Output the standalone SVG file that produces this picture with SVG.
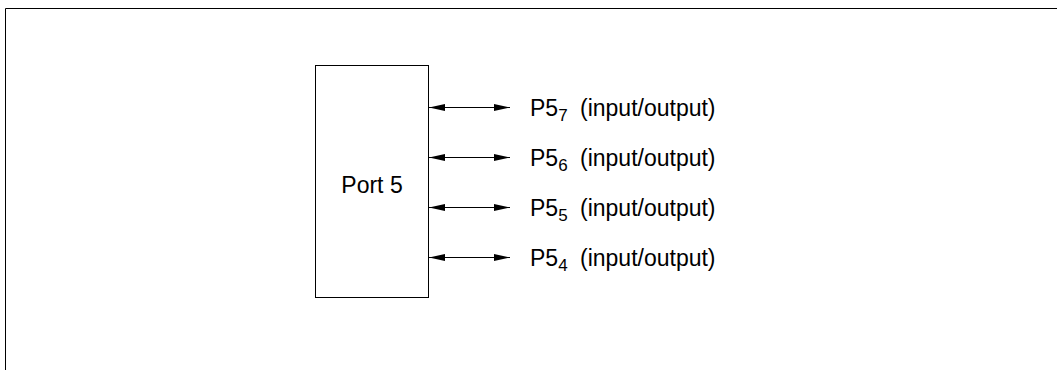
<svg xmlns="http://www.w3.org/2000/svg" width="1057" height="370" viewBox="0 0 1057 370">
<style>
.t{font-family:"Liberation Sans",Arial,sans-serif;font-size:23px;fill:#000}
.s{font-size:17px}
.ln{stroke:#000;stroke-width:1;fill:none}
</style>
<defs>
<marker id="ah" viewBox="0 0 16 8" refX="16" refY="4" markerWidth="16" markerHeight="8" orient="auto-start-reverse" markerUnits="userSpaceOnUse">
<path d="M0,0.5 L16,4 L0,7.5 Z" fill="#000"/>
</marker>
</defs>
<rect width="1057" height="370" fill="#fff"/>
<g id="frame"><path class="ln" d="M5.5,370 V8.5 H1057" stroke-width="2"/></g>
<g id="port5">
<rect x="315.5" y="65.5" width="113" height="232" class="ln"/>
<text x="372" y="193" class="t" text-anchor="middle">Port 5</text>
</g>
<g id="connectors">
<line x1="429" y1="107.5" x2="510" y2="107.5" class="ln" marker-start="url(#ah)" marker-end="url(#ah)"/>
<line x1="429" y1="157.5" x2="510" y2="157.5" class="ln" marker-start="url(#ah)" marker-end="url(#ah)"/>
<line x1="429" y1="207.5" x2="510" y2="207.5" class="ln" marker-start="url(#ah)" marker-end="url(#ah)"/>
<line x1="429" y1="257.5" x2="510" y2="257.5" class="ln" marker-start="url(#ah)" marker-end="url(#ah)"/>
</g>
<g id="p57"><text x="530" y="116" class="t">P5<tspan class="s" dy="5">7</tspan><tspan dy="-5" dx="6"> (input/output)</tspan></text></g>
<g id="p56"><text x="530" y="166" class="t">P5<tspan class="s" dy="5">6</tspan><tspan dy="-5" dx="6"> (input/output)</tspan></text></g>
<g id="p55"><text x="530" y="216" class="t">P5<tspan class="s" dy="5">5</tspan><tspan dy="-5" dx="6"> (input/output)</tspan></text></g>
<g id="p54"><text x="530" y="266" class="t">P5<tspan class="s" dy="5">4</tspan><tspan dy="-5" dx="6"> (input/output)</tspan></text></g>
</svg>
